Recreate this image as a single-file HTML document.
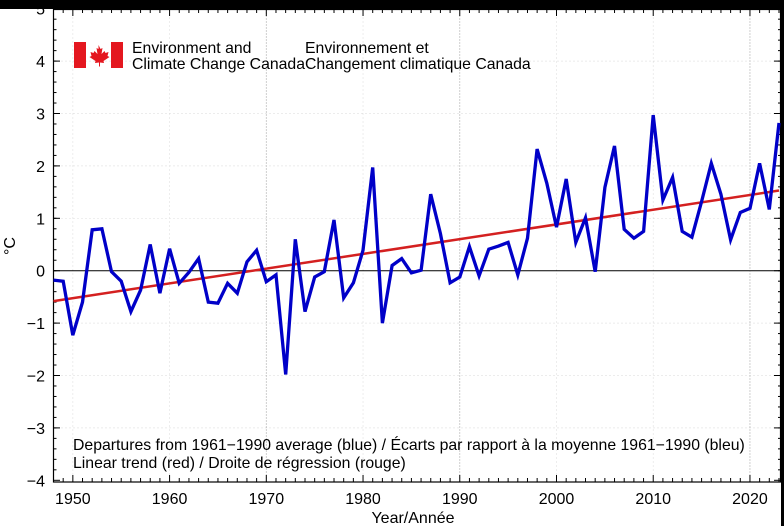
<!DOCTYPE html>
<html><head><meta charset="utf-8"><style>
html,body{margin:0;padding:0;background:#fff;}
svg{display:block;font-family:"Liberation Sans",Arial,sans-serif;}
</style></head><body>
<svg width="784" height="526" viewBox="0 0 784 526" xmlns="http://www.w3.org/2000/svg">
<rect x="0" y="0" width="784" height="526" fill="#fff"/>
<rect x="0" y="0" width="784" height="9" fill="#000"/>
<rect x="781" y="0" width="3" height="526" fill="#000"/>
<g id="gridh" stroke="#ccc" stroke-width="0.7" stroke-dasharray="1,3"></g>
<g id="grid" stroke="#888" stroke-width="0.8" stroke-dasharray="1,2"></g>
<line x1="53.5" y1="270.7" x2="781" y2="270.7" stroke="#000" stroke-width="1"/>
<g id="ticks" stroke="#000" stroke-width="1"></g>
<rect x="53.5" y="9.5" width="727" height="472.5" fill="none" stroke="#000" stroke-width="1.2"/>
<g font-size="16" fill="#000" text-anchor="end" id="ylab"></g>
<g font-size="16" fill="#000" text-anchor="middle" id="xlab"></g>
<polyline id="trend" fill="none" stroke="#d42020" stroke-width="2.5"/>
<polyline id="data" fill="none" stroke="#0000c8" stroke-width="3.3" stroke-linejoin="miter"/>
<text x="15" y="246" font-size="16" transform="rotate(-90 15 246)" text-anchor="middle">°C</text>
<text x="413" y="523" font-size="16" text-anchor="middle">Year/Année</text>
<rect x="74" y="42" width="12" height="26" fill="#e4171f"/>
<rect x="111" y="42" width="12" height="26" fill="#e4171f"/>
<path d="M98.5,45 l2,4 2,-1 -1,6 3,-3 1,2 3,-1 -1,4 2,1 -6,4 0.5,2 -4,-0.5 0,4 h-1 l0,-4 -4,0.5 0.5,-2 -6,-4 2,-1 -1,-4 3,1 1,-2 3,3 -1,-6 2,1z" fill="#e4171f"/>
<g font-size="15.8" fill="#000">
<text x="132" y="53">Environment and</text>
<text x="132" y="69">Climate Change Canada</text>
<text x="305" y="53">Environnement et</text>
<text x="305" y="69">Changement climatique Canada</text>
<text x="73" y="450" font-size="15.8">Departures from 1961−1990 average (blue) / Écarts par rapport à la moyenne 1961−1990 (bleu)</text>
<text x="73" y="468" font-size="15.8">Linear trend (red) / Droite de régression (rouge)</text>
</g>
<script>
var X=function(y){return 53.5+(y-1948)*9.673;},Y=function(v){return 270.7-v*52.4;};
var ns="http://www.w3.org/2000/svg";
var vals=[-0.18,-0.2,-1.23,-0.6,0.78,0.8,-0.02,-0.2,-0.78,-0.37,0.5,-0.43,0.42,-0.24,-0.03,0.23,-0.6,-0.62,-0.24,-0.43,0.17,0.39,-0.21,-0.08,-1.98,0.6,-0.78,-0.12,-0.02,0.97,-0.52,-0.23,0.39,1.97,-1.0,0.1,0.23,-0.04,0.01,1.46,0.71,-0.23,-0.12,0.46,-0.1,0.41,0.47,0.54,-0.08,0.62,2.32,1.67,0.83,1.75,0.54,1.01,-0.02,1.59,2.38,0.79,0.62,0.75,2.97,1.35,1.78,0.75,0.64,1.32,2.05,1.46,0.59,1.11,1.19,2.05,1.17,2.82];
var p=vals.map(function(v,i){return X(1948+i).toFixed(1)+","+Y(v).toFixed(1);}).join(" ");
document.getElementById("data").setAttribute("points",p);
document.getElementById("trend").setAttribute("points",X(1948)+","+Y(-0.58)+" "+X(2023)+","+Y(1.53));
function ln(g,a,b,c,d){var l=document.createElementNS(ns,"line");l.setAttribute("x1",a);l.setAttribute("y1",b);l.setAttribute("x2",c);l.setAttribute("y2",d);g.appendChild(l);}
function tx(g,x,y,s){var t=document.createElementNS(ns,"text");t.setAttribute("x",x);t.setAttribute("y",y);t.textContent=s;g.appendChild(t);}
var gh=document.getElementById("gridh"),gr=document.getElementById("grid"),tk=document.getElementById("ticks"),yl=document.getElementById("ylab"),xl=document.getElementById("xlab");
for(var v=-4;v<=5;v++){var y=Y(v);if(v>-4&&v<5&&v!=0)ln(gh,53.5,y,781,y);ln(tk,53.5,y,60,y);ln(tk,774,y,781,y);tx(yl,45,y+6,(v<0?"−":"")+Math.abs(v));}
for(var v=-3.8;v<5;v+=0.2){var y=Y(v);ln(tk,53.5,y,56.5,y);ln(tk,778,y,781,y);}
for(var yr=1948;yr<=2023;yr++){var x=X(yr);var maj=yr%10==0;ln(tk,x,9.5,x,maj?16:13);ln(tk,x,482,x,maj?475:478);
if(maj){if(yr==1970||yr==1990||yr==2020)ln(gr,x,9.5,x,482);else ln(gh,x,9.5,x,482);tx(xl,x,504,yr);}}
</script>
</svg>
</body></html>
